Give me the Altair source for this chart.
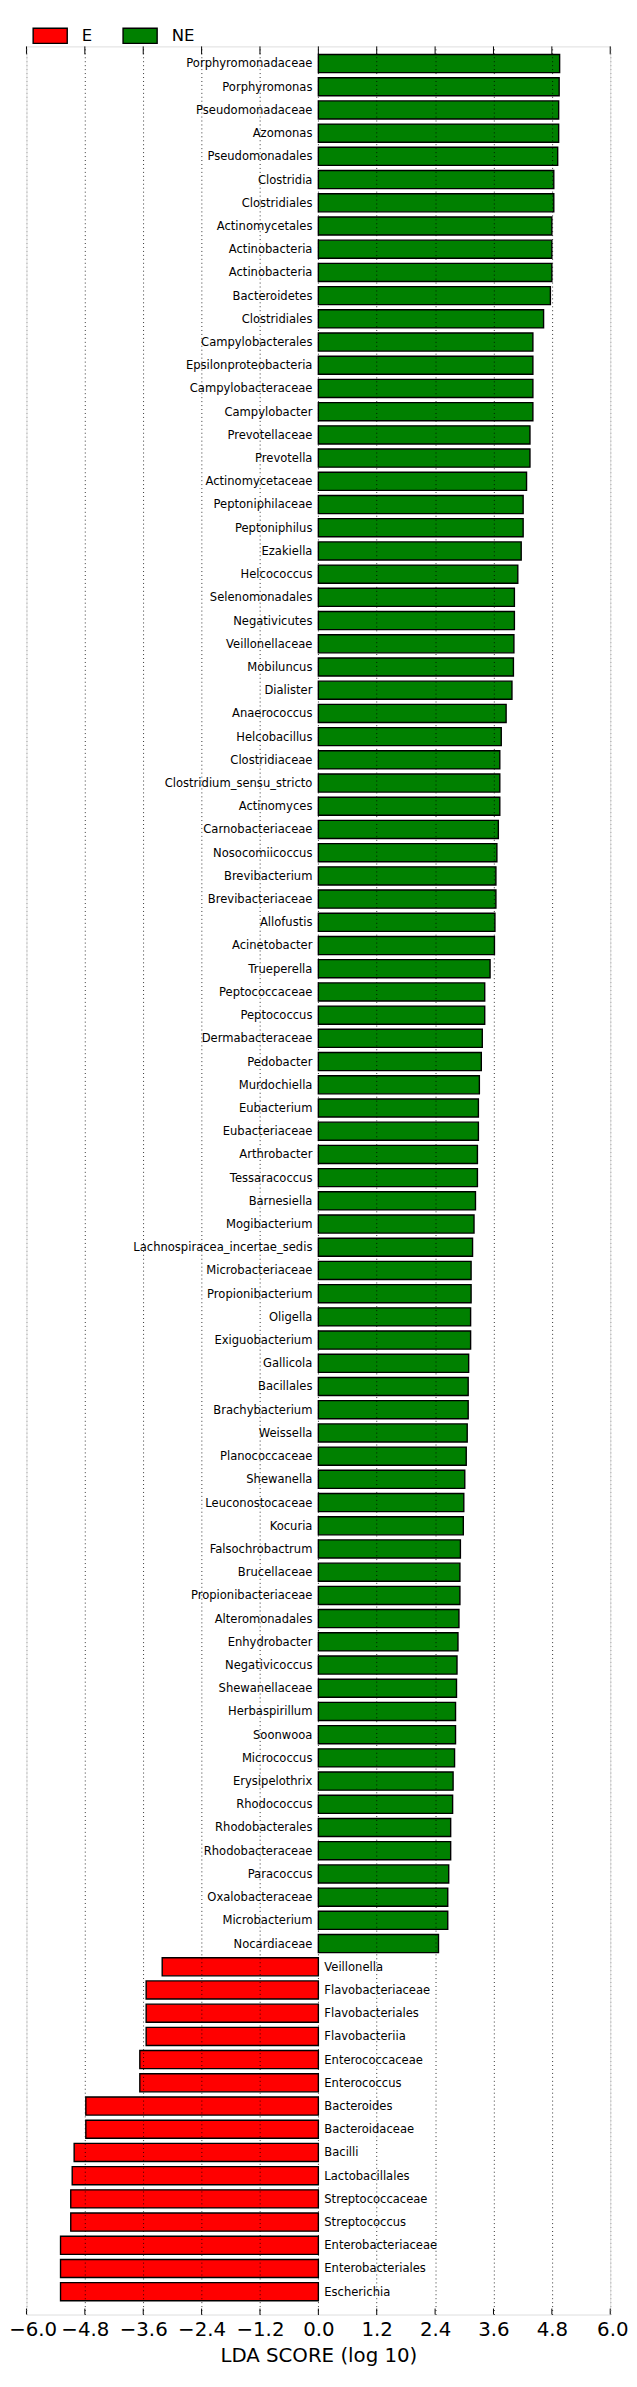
import altair as alt
import pandas as pd

NE_NAMES = [
    "Porphyromonadaceae", "Porphyromonas", "Pseudomonadaceae", "Azomonas", "Pseudomonadales",
    "Clostridia", "Clostridiales", "Actinomycetales", "Actinobacteria", "Actinobacteria",
    "Bacteroidetes", "Clostridiales", "Campylobacterales", "Epsilonproteobacteria", "Campylobacteraceae",
    "Campylobacter", "Prevotellaceae", "Prevotella", "Actinomycetaceae", "Peptoniphilaceae",
    "Peptoniphilus", "Ezakiella", "Helcococcus", "Selenomonadales", "Negativicutes",
    "Veillonellaceae", "Mobiluncus", "Dialister", "Anaerococcus", "Helcobacillus",
    "Clostridiaceae", "Clostridium_sensu_stricto", "Actinomyces", "Carnobacteriaceae", "Nosocomiicoccus",
    "Brevibacterium", "Brevibacteriaceae", "Allofustis", "Acinetobacter", "Trueperella",
    "Peptococcaceae", "Peptococcus", "Dermabacteraceae", "Pedobacter", "Murdochiella",
    "Eubacterium", "Eubacteriaceae", "Arthrobacter", "Tessaracoccus", "Barnesiella",
    "Mogibacterium", "Lachnospiracea_incertae_sedis", "Microbacteriaceae", "Propionibacterium", "Oligella",
    "Exiguobacterium", "Gallicola", "Bacillales", "Brachybacterium", "Weissella",
    "Planococcaceae", "Shewanella", "Leuconostocaceae", "Kocuria", "Falsochrobactrum",
    "Brucellaceae", "Propionibacteriaceae", "Alteromonadales", "Enhydrobacter", "Negativicoccus",
    "Shewanellaceae", "Herbaspirillum", "Soonwooa", "Micrococcus", "Erysipelothrix",
    "Rhodococcus", "Rhodobacterales", "Rhodobacteraceae", "Paracoccus", "Oxalobacteraceae",
    "Microbacterium", "Nocardiaceae",
]
NE_SCORES = [
    4.96, 4.95, 4.94, 4.94, 4.92,
    4.84, 4.84, 4.80, 4.80, 4.80,
    4.77, 4.63, 4.41, 4.41, 4.41,
    4.41, 4.35, 4.35, 4.28, 4.21,
    4.21, 4.17, 4.10, 4.03, 4.03,
    4.02, 4.01, 3.98, 3.86, 3.76,
    3.73, 3.73, 3.73, 3.70, 3.67,
    3.65, 3.65, 3.63, 3.62, 3.53,
    3.42, 3.42, 3.37, 3.35, 3.31,
    3.29, 3.29, 3.27, 3.27, 3.23,
    3.20, 3.17, 3.14, 3.14, 3.13,
    3.13, 3.09, 3.08, 3.08, 3.06,
    3.04, 3.01, 2.99, 2.98, 2.92,
    2.91, 2.91, 2.89, 2.87, 2.85,
    2.84, 2.82, 2.82, 2.80, 2.77,
    2.76, 2.72, 2.72, 2.68, 2.66,
    2.66, 2.47,
]
E_NAMES = [
    "Veillonella", "Flavobacteriaceae", "Flavobacteriales", "Flavobacteriia", "Enterococcaceae",
    "Enterococcus", "Bacteroides", "Bacteroidaceae", "Bacilli", "Lactobacillales",
    "Streptococcaceae", "Streptococcus", "Enterobacteriaceae", "Enterobacteriales", "Escherichia",
]
E_SCORES = [
    -3.21, -3.54, -3.54, -3.54, -3.67,
    -3.67, -4.78, -4.78, -5.02, -5.06,
    -5.09, -5.09, -5.30, -5.30, -5.30,
]
CLASSES = ["E", "NE"]
CLASS_COLORS = ["#FF0000", "#008000"]
TICKS = [-6.0, -4.8, -3.6, -2.4, -1.2, 0.0, 1.2, 2.4, 3.6, 4.8, 6.0]

names = NE_NAMES + E_NAMES
scores = NE_SCORES + E_SCORES
cls = ["NE"] * len(NE_NAMES) + ["E"] * len(E_NAMES)
df = pd.DataFrame({
    "idx": list(range(len(names))),
    "name": names,
    "score": scores,
    "cls": cls,
    "zero": [0.0] * len(names),
})
ticks_df = pd.DataFrame({"t": TICKS})

FONT = "DejaVu Sans"
W, H = 590.8, 2295.5

xscale = alt.Scale(domain=[-6, 6], nice=False, zero=False)
yscale = alt.Scale(paddingInner=0.22, paddingOuter=0.47, align=0.37)

base = alt.Chart(df)

bars = base.mark_bar(stroke="black", strokeWidth=1.4, opacity=1).encode(
    x=alt.X(
        "score:Q",
        scale=xscale,
        axis=alt.Axis(
            values=TICKS, format=".1f", title="LDA SCORE (log 10)",
            grid=True,
            gridColor={"condition": {"test": "abs(datum.value) >= 6", "value": "#8a8a8a"}, "value": "black"},
            gridDash=[1, 3], gridWidth=0.9, gridOpacity=0.9,
            ticks=False, tickSize=0, domain=False, labelOverlap=False,
            labelFlush=True, labelFlushOffset=18,
            labelFont=FONT, labelFontSize=20, labelColor="black", labelPadding=5,
            titleFont=FONT, titleFontSize=20, titleFontWeight="normal", titleColor="black",
            titlePadding=7, zindex=1,
        ),
    ),
    x2=alt.X2("zero:Q"),
    y=alt.Y("idx:O", scale=yscale, axis=None),
    color=alt.Color(
        "cls:N",
        scale=alt.Scale(domain=CLASSES, range=CLASS_COLORS),
        legend=alt.Legend(
            orient="none", legendX=6, legendY=-29, direction="horizontal", title=None,
            symbolType="M-1,-0.445L1,-0.445L1,0.445L-1,0.445Z", symbolSize=1190,
            symbolStrokeColor="black", symbolStrokeWidth=1.4, symbolOpacity=1,
            labelFont=FONT, labelFontSize=16.7, labelColor="black", labelOffset=14,
            columnPadding=27,
        ),
    ),
)

ne_labels = base.transform_filter(alt.datum.cls == "NE").mark_text(
    align="right", baseline="middle", dx=-6, font=FONT, fontSize=11.7, color="black"
).encode(
    x=alt.X("zero:Q", scale=xscale),
    y=alt.Y("idx:O", scale=yscale, axis=None),
    text="name:N",
)

e_labels = base.transform_filter(alt.datum.cls == "E").mark_text(
    align="left", baseline="middle", dx=6, font=FONT, fontSize=11.7, color="black"
).encode(
    x=alt.X("zero:Q", scale=xscale),
    y=alt.Y("idx:O", scale=yscale, axis=None),
    text="name:N",
)

top_ticks = alt.Chart(ticks_df).mark_rule(color="black", strokeWidth=1).encode(
    x=alt.X("t:Q", scale=xscale),
    y=alt.value(0),
    y2=alt.value(8),
)
bottom_ticks = alt.Chart(ticks_df).mark_rule(color="black", strokeWidth=1).encode(
    x=alt.X("t:Q", scale=xscale),
    y=alt.value(H - 6),
    y2=alt.value(H),
)

chart = alt.layer(bars, ne_labels, e_labels, top_ticks, bottom_ticks).properties(
    width=W,
    height=H,
    autosize=alt.AutoSizeParams(type="none"),
    padding={"left": 18.7, "top": 24.5, "right": 19, "bottom": 59},
).configure_view(stroke=None).configure(background="white")

chart.save("out.html", embed_options={"renderer": "svg", "actions": False})
